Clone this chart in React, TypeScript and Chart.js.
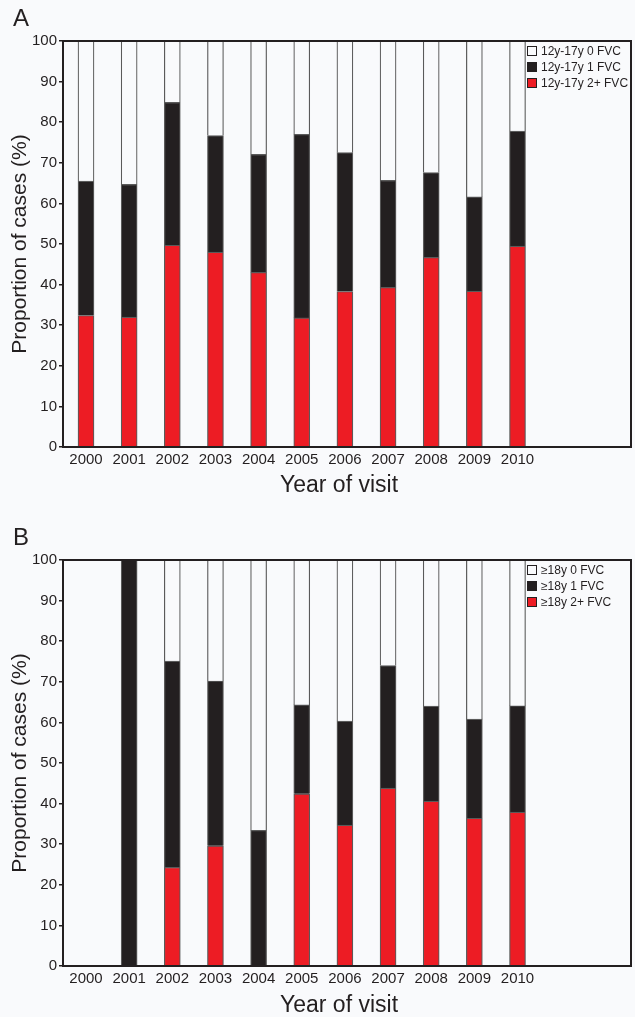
import React, { useEffect, useRef } from "react";
import { Chart, registerables } from "chart.js";

Chart.register(...registerables);

// ---------- data ----------
const years = [2000, 2001, 2002, 2003, 2004, 2005, 2006, 2007, 2008, 2009, 2010];
const yMin = 0;
const yMax = 100;
const yStep = 10;

const legendA = ["12y-17y 0 FVC", "12y-17y 1 FVC", "12y-17y 2+ FVC"];
const panelA0 = [34.5, 35.3, 15.1, 23.3, 27.9, 23.0, 27.5, 34.3, 32.4, 38.4, 22.2];
const panelA1 = [33.1, 32.7, 35.2, 28.7, 29.1, 45.2, 34.2, 26.4, 20.9, 23.2, 28.3];
const panelA2 = [32.4, 32.0, 49.7, 48.0, 43.0, 31.8, 38.3, 39.3, 46.7, 38.4, 49.5];

const legendB = ["\u226518y 0 FVC", "\u226518y 1 FVC", "\u226518y 2+ FVC"];
const panelB0 = [null, null, 24.9, 29.8, 66.6, 35.7, 39.7, 26.0, 36.0, 39.2, 35.9];
const panelB1 = [null, 100, 50.8, 40.6, 33.4, 21.9, 25.6, 30.2, 23.4, 24.4, 26.2];
const panelB2 = [null, null, 24.3, 29.6, null, 42.4, 34.7, 43.8, 40.6, 36.4, 37.9];

const xTitle = "Year of visit";
const yTitle = "Proportion of cases (%)";

// ---------- style ----------
const INK = "#231f20";
const BG = "#f9fafc";
const RED = "#ed1c24";
const BLACK = "#231f20";
const EDGE = "#5a5a5a";
const FONT = "'Liberation Sans', Arial, Helvetica, sans-serif";

Chart.defaults.font.family = FONT;
Chart.defaults.color = INK;

const decorPlugin = {
  id: "decor",
  afterDatasetsDraw(chart: any) {
    const { ctx, chartArea: a } = chart;
    ctx.save();
    // frame
    ctx.strokeStyle = INK;
    ctx.lineWidth = 2;
    ctx.strokeRect(a.left, a.top, a.right - a.left, a.bottom - a.top);
    // legend (top to bottom: reverse dataset order)
    const ds = chart.data.datasets.slice().reverse();
    ctx.font = `12px ${FONT}`;
    ctx.textBaseline = "middle";
    ctx.textAlign = "left";
    ds.forEach((d: any, i: number) => {
      const cy = a.top + 10 + i * 16;
      const bx = a.right - 104;
      ctx.fillStyle = d.backgroundColor;
      ctx.fillRect(bx, cy - 5, 10, 10);
      ctx.lineWidth = 1;
      ctx.strokeStyle = INK;
      ctx.strokeRect(bx + 0.5, cy - 4.5, 9, 9);
      ctx.fillStyle = INK;
      ctx.fillText(d.label, bx + 14, cy + 0.5);
    });
    ctx.restore();
  },
  afterDraw(chart: any, _args: any, opts: any) {
    const { ctx, chartArea: a } = chart;
    ctx.save();
    ctx.fillStyle = INK;
    ctx.textBaseline = "alphabetic";
    // panel letter
    ctx.font = `24px ${FONT}`;
    ctx.textAlign = "left";
    ctx.fillText(opts.letter, 13, opts.letterBaseline);
    // x title
    ctx.font = `23px ${FONT}`;
    ctx.textAlign = "center";
    ctx.fillText(xTitle, (a.left + a.right) / 2 - 8, opts.xTitleBaseline);
    ctx.restore();
  },
};

type PanelProps = {
  letter: string;
  labels: string[];
  s0: (number | null)[];
  s1: (number | null)[];
  s2: (number | null)[];
  height: number;
  padTop: number;
  xAxisHeight: number;
  letterBaseline: number;
  xTitleBaseline: number;
};

function Panel(p: PanelProps) {
  const ref = useRef<HTMLCanvasElement | null>(null);
  useEffect(() => {
    if (!ref.current) return;
    const pts = (arr: (number | null)[]) => years.map((yr, i) => ({ x: yr, y: arr[i] }));
    const common = {
      borderColor: EDGE,
      borderWidth: 1.2,
      barThickness: 16,
    };
    const chart = new Chart(ref.current, {
      type: "bar",
      data: {
        datasets: [
          { ...common, label: p.labels[2], data: pts(p.s2), backgroundColor: RED },
          { ...common, label: p.labels[1], data: pts(p.s1), backgroundColor: BLACK },
          { ...common, label: p.labels[0], data: pts(p.s0), backgroundColor: BG },
        ],
      } as any,
      options: {
        responsive: false,
        animation: false,
        events: [],
        layout: { padding: { top: p.padTop, right: 4, left: 0, bottom: 0 } },
        plugins: {
          legend: { display: false },
          tooltip: { enabled: false },
          decor: {
            letter: p.letter,
            letterBaseline: p.letterBaseline,
            xTitleBaseline: p.xTitleBaseline,
          },
        } as any,
        scales: {
          x: {
            type: "linear",
            stacked: true,
            offset: false,
            min: 1999.467,
            max: 2012.63,
            grid: { display: false, drawTicks: false, offset: false },
            border: { display: false },
            afterBuildTicks: (s: any) => {
              s.ticks = years.map((v) => ({ value: v }));
            },
            afterFit: (s: any) => {
              s.height = p.xAxisHeight;
            },
            ticks: {
              autoSkip: false,
              maxRotation: 0,
              minRotation: 0,
              padding: 4,
              color: INK,
              font: { size: 15 },
              callback: (v: any) => String(v),
            },
          },
          y: {
            stacked: true,
            min: yMin,
            max: yMax,
            grid: {
              drawOnChartArea: false,
              drawTicks: true,
              tickLength: 4,
              color: INK,
              lineWidth: 1.5,
            },
            border: { display: false },
            afterFit: (s: any) => {
              s.width = 63;
            },
            ticks: {
              stepSize: yStep,
              padding: 2,
              color: INK,
              font: { size: 15 },
            },
            title: {
              display: true,
              text: yTitle,
              color: INK,
              font: { size: 21 },
              padding: { top: 8, bottom: 0 },
            },
          },
        },
      } as any,
      plugins: [decorPlugin as any],
    });
    return () => chart.destroy();
  }, []);
  return (
    <canvas
      ref={ref}
      width={635}
      height={p.height}
      style={{ display: "block", width: 635, height: p.height }}
    />
  );
}

export default function App() {
  return (
    <div
      style={{
        position: "absolute",
        left: 0,
        top: 0,
        width: 635,
        height: 1017,
        background: BG,
        overflow: "hidden",
      }}
    >
      <Panel
        letter="A"
        labels={legendA}
        s0={panelA0}
        s1={panelA1}
        s2={panelA2}
        height={508}
        padTop={41}
        xAxisHeight={61}
        letterBaseline={26}
        xTitleBaseline={491.5}
      />
      <Panel
        letter="B"
        labels={legendB}
        s0={panelB0}
        s1={panelB1}
        s2={panelB2}
        height={509}
        padTop={52}
        xAxisHeight={51}
        letterBaseline={37}
        xTitleBaseline={503.5}
      />
    </div>
  );
}
